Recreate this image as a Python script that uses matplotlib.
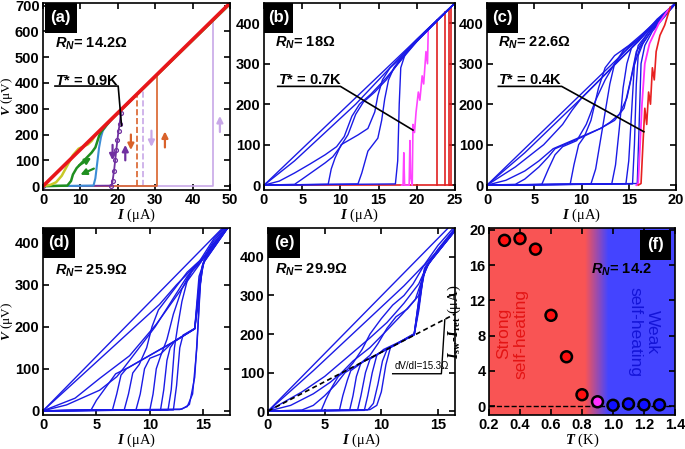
import numpy as np
import matplotlib.pyplot as plt
from matplotlib.patches import Rectangle

plt.rcParams['font.family'] = ['Liberation Sans', 'DejaVu Sans']
plt.rcParams['font.weight'] = 'bold'
plt.rcParams['mathtext.fontset'] = 'custom'
plt.rcParams['mathtext.it'] = 'Liberation Sans:italic:bold'
plt.rcParams['mathtext.rm'] = 'Liberation Sans:bold'
plt.rcParams['mathtext.bf'] = 'Liberation Sans:bold'
plt.rcParams['mathtext.sf'] = 'Liberation Serif:italic:bold'
plt.rcParams['mathtext.tt'] = 'Liberation Serif:bold'

# ---------------- panel (a): R_N = 14.2 ohm, coloured traces ----------------
a_red = [(0, 0), (50, 710)]
a_yellow = [(0, 0), (2, 5), (3.5, 15), (5, 40), (6.5, 80), (8, 120), (9.5, 145), (11, 155),
            (12, 162), (13, 175), (14, 198), (50, 708)]
a_green = [(0, 0), (6.5, 2), (7.5, 20), (8, 45), (9, 70), (10, 85), (11, 100), (12, 115),
           (13, 130), (14, 150), (14.5, 172), (15, 195), (15.5, 210), (16.5, 228), (18, 255), (50, 706)]
a_cyan = [(0, 0), (13.5, 2), (14, 30), (14.5, 90), (15, 150), (15.5, 190), (16, 215), (17, 235),
          (18, 252), (19, 270)]
a_purple = [(0, 0), (18.3, 2), (18.6, 20), (19, 60), (19.3, 100), (19.6, 140), (19.9, 180),
            (20.2, 215), (20.5, 240), (20.8, 285)]
a_orange_dash = [(25, 0), (25, 355)]
a_lilac_dash = [(26.8, 0), (26.8, 380)]
a_orange = [(0, 0), (30.5, 0), (30.5, 433)]
a_lilac = [(0, 1), (45.5, 1), (45.5, 646)]
# arrows: (start, end, colour)
a_arrows = [((18.6, 160), (18.6, 100), '#7030a0'), ((22.0, 100), (22.0, 160), '#7030a0'),
            ((23.5, 200), (23.5, 140), '#d9622b'), ((29.0, 215), (29.0, 152), '#c8a8e8'),
            ((32.6, 150), (32.6, 212), '#d9622b'), ((47.3, 210), (47.3, 272), '#c8a8e8'),
            ((9.6, 80), (12.9, 110), '#1f8f1f'), ((13.6, 68), (10.0, 44), '#1f8f1f')]

# ---------------- panel (b): R_N = 18 ohm ----------------
b_blue = [
    [(0, 0), (25, 450)],
    [(0, 0), (4, 60), (8, 130), (10, 165), (12, 200), (14, 240), (16, 280), (18, 320), (20, 360), (25, 450)],
    [(0, 0), (2, 10), (4, 30), (6, 52), (8, 75), (9.5, 95), (10.5, 120), (11.5, 170), (12.5, 200),
     (14, 225), (16, 265), (18, 310), (20, 355), (25, 450)],
    [(0, 0), (4, 2), (5, 15), (6.5, 35), (8, 55), (9, 70), (10, 95), (11, 125), (12, 175), (13, 205),
     (14.5, 230), (16, 260), (17.5, 300), (19, 335), (21, 375), (25, 450)],
    [(0, 0), (8.4, 2), (8.8, 40), (9.3, 67), (10.1, 100), (12.3, 124), (13.6, 140), (14.5, 181),
     (14.9, 221), (15.5, 260), (16.5, 290), (17.5, 307), (19, 335), (21, 378), (25, 450)],
    [(0, 0), (12.3, 3), (12.8, 30), (13.6, 84), (14.9, 116), (15.4, 160), (15.8, 213), (16.3, 260),
     (17, 290), (18, 315), (20, 355), (25, 450)],
    [(0, 0), (17.2, 3), (17.5, 60), (17.7, 200), (17.9, 290), (18.5, 325), (20, 358), (25, 450)],
]
b_magenta = [(18.0, 0), (18.2, 0), (18.3, 80), (18.4, 0), (19.0, 0), (19.1, 110), (19.2, 20), (19.4, 0),
             (19.5, 150), (19.7, 130), (19.9, 180), (20.2, 230), (20.4, 210), (20.7, 270), (20.9, 250),
             (21.2, 330), (21.4, 300), (21.5, 385), (21.7, 390)]
b_red_I = [22.7, 23.7, 24.2, 24.5]
b_red_V = [409, 427, 436, 441]

# ---------------- panel (c): R_N = 22.6 ohm ----------------
c_blue = [
    [(0, 0), (20, 452)],
    [(0, 0), (4, 80), (8, 170), (10, 215), (12, 262), (14, 310), (16, 355), (18, 405), (20, 450)],
    [(0, 0), (3, 45), (6, 100), (8, 150), (9, 185), (10, 215), (11.5, 250), (13, 285), (14.5, 320),
     (16, 355), (17.5, 395), (20, 450)],
    [(0, 0), (2, 12), (4, 35), (5.5, 60), (7, 90), (8, 100), (10, 120), (12, 140), (13, 155), (14, 175),
     (14.8, 215), (15.5, 290), (16.2, 340), (17.5, 385), (20, 450)],
    [(0, 0), (3, 2), (4, 15), (5.5, 45), (6.5, 70), (7.2, 90), (8, 98), (10, 118), (12, 140), (13.5, 160),
     (14.5, 190), (15.2, 260), (15.8, 330), (17, 375), (20, 450)],
    [(0, 0), (5.8, 2), (6.5, 40), (7.2, 75), (8, 95), (9.5, 110), (10.5, 150), (11.5, 210), (12.5, 260),
     (13.5, 300), (14.5, 330), (16, 360), (17.5, 395), (20, 450)],
    [(0, 0), (8.8, 2), (9.2, 50), (9.7, 100), (10.3, 120), (11, 160), (11.8, 240), (12.5, 290),
     (13.5, 320), (15, 345), (16.5, 375), (20, 450)],
    [(0, 0), (11, 3), (11.5, 40), (12, 110), (12.5, 180), (13, 250), (13.5, 300), (14.5, 335),
     (16, 360), (17.5, 395), (20, 450)],
    [(0, 0), (13.2, 3), (13.6, 50), (14, 140), (14.4, 240), (14.8, 300), (15.3, 340), (16.5, 370),
     (18, 410), (20, 450)],
    [(0, 0), (14.7, 3), (15, 60), (15.3, 180), (15.6, 300), (16, 345), (17, 375), (18.5, 420), (20, 450)],
    [(0, 0), (15.4, 3), (15.6, 100), (15.8, 250), (16, 320), (16.5, 350), (17.5, 385), (20, 450)],
    [(0, 0), (15.9, 4), (16.1, 150), (16.3, 300), (16.7, 345), (17.5, 380), (20, 450)],
]
c_magenta = [(15.8, 0), (16.0, 5), (16.2, 100), (16.4, 200), (16.7, 300), (17.2, 350), (18.2, 400), (19.2, 434)]
c_red = [(16.0, 0), (16.3, 4), (16.5, 100), (16.7, 190), (16.9, 150), (17.1, 230), (17.3, 200),
         (17.5, 290), (17.7, 260), (17.9, 330), (18.3, 370), (18.8, 395), (19.4, 440)]

# ---------------- panel (d): R_N = 25.9 ohm ----------------
d_blue = [
    [(0, 0), (17.5, 453)],
    [(0, 0), (10.9, 253), (12.5, 300), (14.6, 354), (16, 410), (17.5, 450)],
    [(0, 0), (3, 30), (5.3, 77), (8.1, 131), (10.6, 206), (12.8, 284), (14.6, 347), (16, 405), (17.5, 448)],
    [(0, 0), (2.2, 14), (5.3, 49), (6.9, 81), (7.5, 100), (9, 150), (10.5, 200), (11.5, 240), (12.5, 280),
     (13.5, 320), (14.8, 355), (16, 400), (17.5, 445)],
    [(0, 0), (4.5, 2), (5, 25), (6, 60), (6.8, 88), (8, 103), (10, 132), (12, 161), (14.2, 195),
     (14.6, 270), (14.9, 345), (15.4, 375), (16.5, 410), (17.5, 443)],
    [(0, 0), (6.5, 2), (6.9, 40), (7.3, 85), (7.8, 100), (10, 132), (12, 161), (14.2, 196), (14.7, 300),
     (15, 350), (15.5, 378), (17.5, 443)],
    [(0, 0), (7.6, 2), (8, 40), (8.4, 90), (9, 110), (9.7, 150), (10.2, 200), (10.8, 240), (12, 280),
     (13.5, 330), (15, 365), (17.5, 445)],
    [(0, 0), (8.7, 2), (9.1, 40), (9.5, 100), (10, 125), (11, 135), (12, 160), (14.2, 195), (14.6, 300),
     (15, 352), (17.5, 443)],
    [(0, 0), (10, 2), (10.3, 40), (10.6, 100), (11, 130), (11.6, 170), (12.2, 230), (13, 290),
     (13.8, 330), (15, 362), (17.5, 445)],
    [(0, 0), (11, 2), (11.3, 50), (11.6, 120), (11.9, 150), (12.3, 165), (14.2, 195), (14.7, 320),
     (15.1, 355), (17.5, 443)],
    [(0, 0), (11.7, 2), (12, 50), (12.3, 150), (12.6, 200), (13, 260), (13.5, 310), (14.2, 345),
     (15.3, 370), (17.5, 445)],
    [(0, 0), (12.2, 2), (12.5, 60), (12.8, 150), (13.1, 180), (14.2, 196), (14.6, 320), (15.1, 357), (17.5, 443)],
    [(0, 0), (12.8, 3), (13.5, 10), (14, 40), (14.4, 150), (14.7, 300), (15, 350), (15.5, 378), (17.5, 443)],
    [(0, 0), (13, 4), (13.7, 15), (14.2, 80), (14.5, 200), (14.8, 330), (15.1, 360), (17.5, 443)],
]

# ---------------- panel (e): R_N = 29.9 ohm ----------------
e_blue = [
    [(0, 0), (16.5, 493)],
    [(0, 0), (4, 105), (8, 215), (10, 270), (12, 325), (13.8, 380), (15, 430), (16.5, 480)],
    [(0, 0), (3, 50), (5, 90), (7, 140), (9, 190), (10.5, 230), (12, 280), (13.3, 330), (14, 375),
     (15, 420), (16.5, 475)],
    [(0, 0), (2, 15), (4, 45), (5.5, 75), (6.5, 100), (7.5, 130), (9, 165), (10.5, 210), (11.8, 250),
     (13, 290), (13.7, 350), (14.2, 385), (15.2, 425), (16.5, 472)],
    [(0, 0), (3, 3), (4, 15), (5, 40), (6, 70), (6.8, 100), (8, 122), (10, 153), (12, 185), (12.9, 198),
     (13.3, 260), (13.7, 350), (14.2, 385), (15.2, 425), (16.5, 470)],
    [(0, 0), (4.7, 2), (5.1, 30), (5.6, 60), (6.2, 90), (7, 108), (7.5, 125), (8.3, 160), (9, 200),
     (10, 240), (11, 275), (12, 300), (12.8, 330), (13.7, 375), (15, 418), (16.5, 470)],
    [(0, 0), (6.3, 2), (6.6, 40), (7, 80), (7.3, 105), (8.5, 130), (10, 153), (12, 184), (12.9, 198),
     (13.3, 270), (13.7, 355), (14.2, 385), (16.5, 470)],
    [(0, 0), (7.2, 2), (7.5, 40), (7.8, 90), (8.2, 125), (9, 145), (9.7, 175), (10.5, 215), (11.3, 245),
     (12.3, 265), (13.3, 300), (13.8, 365), (14.5, 395), (16.5, 468)],
    [(0, 0), (7.9, 2), (8.2, 40), (8.6, 100), (9, 135), (10, 153), (12, 184), (12.9, 198), (13.4, 290),
     (13.8, 370), (16.5, 468)],
    [(0, 0), (8.5, 2), (8.8, 40), (9.2, 100), (9.6, 145), (10.2, 160), (12, 185), (12.9, 200),
     (13.4, 300), (13.9, 372), (16.5, 468)],
    [(0, 0), (8.8, 3), (9.3, 20), (9.7, 70), (10.1, 130), (10.5, 160), (12, 185), (12.9, 200),
     (13.4, 310), (13.9, 375), (16.5, 468)],
    [(0, 0), (9, 4), (9.6, 15), (10, 50), (10.4, 120), (10.8, 165), (12, 186), (12.9, 201), (13.5, 330),
     (14, 378), (16.5, 468)],
]
e_slope = [(0, 0), (16.5, 252)]

# ---------------- panel (f): I_sw - I_ret vs T ----------------
T_K = [0.3, 0.4, 0.5, 0.6, 0.7, 0.8, 0.9, 1.0, 1.1, 1.2, 1.3]
dI_uA = [18.8, 19.0, 17.8, 10.3, 5.6, 1.3, 0.5, 0.1, 0.25, 0.15, 0.15]
pt_colors = ['#ff1010'] * 6 + ['#ff30ff'] + ['#1010ff'] * 4

BLUE = '#1a1ae6'


def curve(ax, pts, **kw):
    x, y = zip(*pts)
    ax.plot(x, y, **kw)


def style(ax, xlim, ylim, xticks, yticks):
    ax.set_xlim(*xlim)
    ax.set_ylim(*ylim)
    ax.set_xticks(xticks)
    ax.set_yticks(yticks)
    ax.tick_params(direction='in', top=True, right=True, length=4, width=1.2, labelsize=10.5, pad=2.5)
    for s in ax.spines.values():
        s.set_linewidth(1.2)
    ax.set_xlabel(r'$\mathsf{I}$ (μA)', family='Liberation Serif', fontsize=10.5, labelpad=-0.5)


def tag(ax, label, x0, x1, y0=0.84, y1=1.0):
    ax.add_patch(Rectangle((x0, y0), x1 - x0, y1 - y0, transform=ax.transAxes,
                           facecolor='black', edgecolor='none', zorder=5))
    ax.text((x0 + x1) / 2, (y0 + y1) / 2, label, transform=ax.transAxes, color='white',
            fontsize=12, ha='center', va='center', zorder=6)


def rn(ax, x, y, txt):
    ax.text(x, y, r'$\mathit{R}_\mathit{N}$' + txt, fontsize=10.5, ha='left', va='center', zorder=6)


def tstar(ax, x0, x1, ytxt, yline, tip, txt):
    ax.text(x0, ytxt, r'$\mathit{T}$* = ' + txt, fontsize=10.5, ha='left', va='center', zorder=6)
    ax.plot([x0, x1, tip[0]], [yline, yline, tip[1]], color='black', lw=1.2, zorder=6)


def ylab(ax, txt, xpos, size=10.5):
    ax.set_ylabel(txt, family='Liberation Serif', fontsize=size)
    ax.yaxis.set_label_coords(xpos, 0.5)


fig = plt.figure(figsize=(6.85, 4.49), dpi=100)


def add(l, r, t, b):
    return fig.add_axes([l / 685, 1 - b / 449, (r - l) / 685, (b - t) / 449])


ax_a = add(43, 230, 3, 190)
ax_b = add(264, 455, 3, 190)
ax_c = add(487, 676, 3, 190)
ax_d = add(43, 230, 228, 415)
ax_e = add(268, 455, 228, 415)
ax_f = add(489, 675, 228, 415)

# (a)
ax = ax_a
curve(ax, a_lilac, color='#c8a8e8', lw=1.2)
curve(ax, a_lilac_dash, color='#c8a8e8', lw=1.2, ls='--')
curve(ax, a_orange, color='#d9622b', lw=1.2)
curve(ax, a_orange_dash, color='#d9622b', lw=1.2, ls='--')
curve(ax, a_purple, color='#7030a0', lw=1.3, marker='o', ms=2.8, mfc='none', mew=0.9)
curve(ax, a_cyan, color='#3c8dd6', lw=1.5)
curve(ax, a_green, color='#1f8f1f', lw=1.8)
curve(ax, a_yellow, color='#c8c828', lw=1.8)
curve(ax, a_red, color='#e8161b', lw=2.6)
for start, end, col in a_arrows:
    ax.annotate('', xy=end, xytext=start,
                arrowprops=dict(arrowstyle='-|>', color=col, lw=1.6, mutation_scale=9,
                                shrinkA=0, shrinkB=0))
style(ax, (0, 50), (-15, 710), range(0, 51, 10), range(0, 701, 100))
ylab(ax, r'$\mathsf{V}$ (μV)', -0.15, 9.5)
tag(ax, '(a)', 0.01, 0.18)
rn(ax, 3.2, 553, '= 14.2Ω')
tstar(ax, 3.2, 20.1, 409, 388, (21.0, 235), '0.9K')

# (b)
ax = ax_b
ax.plot([0, 24.6], [0, 0], color='#e02020', lw=1.2)
for i, v in zip(b_red_I, b_red_V):
    ax.plot([i, i], [0, v], color='#e02020', lw=1.2)
curve(ax, b_magenta, color='#ff44ff', lw=1.2)
for pts in b_blue:
    curve(ax, pts, color=BLUE, lw=1.0)
style(ax, (0, 25), (-12, 450), range(0, 26, 5), range(0, 401, 100))
tag(ax, '(b)', 0.0, 0.15)
rn(ax, 1.4, 351, '= 18Ω')
tstar(ax, 1.8, 10.0, 259, 244, (19.5, 136), '0.7K')

# (c)
ax = ax_c
for pts in c_blue:
    curve(ax, pts, color=BLUE, lw=1.0)
curve(ax, c_magenta, color='#ff30ff', lw=1.3)
curve(ax, c_red, color='#e82020', lw=1.2)
style(ax, (0, 20), (-12, 450), range(0, 21, 5), range(0, 401, 100))
tag(ax, '(c)', 0.0, 0.165)
rn(ax, 1.2, 351, '= 22.6Ω')
tstar(ax, 1.2, 7.9, 259, 244, (16.6, 132), '0.4K')

# (d)
ax = ax_d
for pts in d_blue:
    curve(ax, pts, color=BLUE, lw=1.0)
style(ax, (0, 17.5), (-10, 435), range(0, 16, 5), range(0, 401, 100))
ylab(ax, r'$\mathsf{V}$ (μV)', -0.15, 9.5)
tag(ax, '(d)', 0.0, 0.17)
rn(ax, 1.1, 334, '= 25.9Ω')

# (e)
ax = ax_e
for pts in e_blue:
    curve(ax, pts, color=BLUE, lw=1.0)
curve(ax, e_slope, color='black', lw=1.2, ls=(0, (3, 2)))
ax.text(11.2, 118, 'dV/dI=15.3Ω', fontsize=7, fontweight='normal', ha='left', va='center')
ax.plot([11.0, 15.3, 15.6], [97, 97, 237], color='black', lw=1.0)
style(ax, (0, 16.5), (-10, 475), range(0, 16, 5), range(0, 401, 100))
tag(ax, '(e)', 0.0, 0.17)
rn(ax, 0.6, 366, '= 29.9Ω')

# (f)
ax = ax_f
red_bg = np.array([0.98, 0.33, 0.33])
blue_bg = np.array([0.27, 0.27, 1.0])
tg = np.linspace(0.2, 1.4, 300)
w = np.clip((tg - 0.82) / (0.97 - 0.82), 0, 1)[:, None]
grad = (1 - w) * red_bg + w * blue_bg
ax.imshow(grad[None, :, :], extent=[0.2, 1.4, -1, 20.2], aspect='auto', zorder=0)
ax.plot([0.2, 1.4], [0, 0], color='black', lw=1.0, ls='--', zorder=2)
ax.scatter(T_K, dI_uA, s=62, c=pt_colors, edgecolors='black', linewidths=1.8, zorder=4)
ax.text(0.35, 8.2, 'Strong\nself-heating', rotation=90, color='#e41414', fontsize=12.5,
        fontweight='normal', ha='center', va='center', multialignment='center')
ax.text(1.2, 8.4, 'Weak\nself-heating', rotation=270, color='#1414d8', fontsize=12.5,
        fontweight='normal', ha='center', va='center', multialignment='center')
rn(ax, 0.86, 15.5, '= 14.2')
style(ax, (0.2, 1.4), (-1, 20.2), np.arange(0.2, 1.41, 0.2), range(0, 21, 4))
ax.set_xticklabels(['%.1f' % t for t in np.arange(0.2, 1.41, 0.2)])
ax.set_xlabel(r'$\mathsf{T}$ (K)', family='Liberation Serif', fontsize=10.5, labelpad=-0.5)
ylab(ax, r'$\mathsf{I}_{\mathtt{sw}}$' + '-' + r'$\mathsf{I}_{\mathtt{ret}}$' + ' (μA)', -0.14)
tag(ax, '(f)', 0.813, 0.979, 0.83, 0.99)

fig.savefig('out.png', dpi=100)
